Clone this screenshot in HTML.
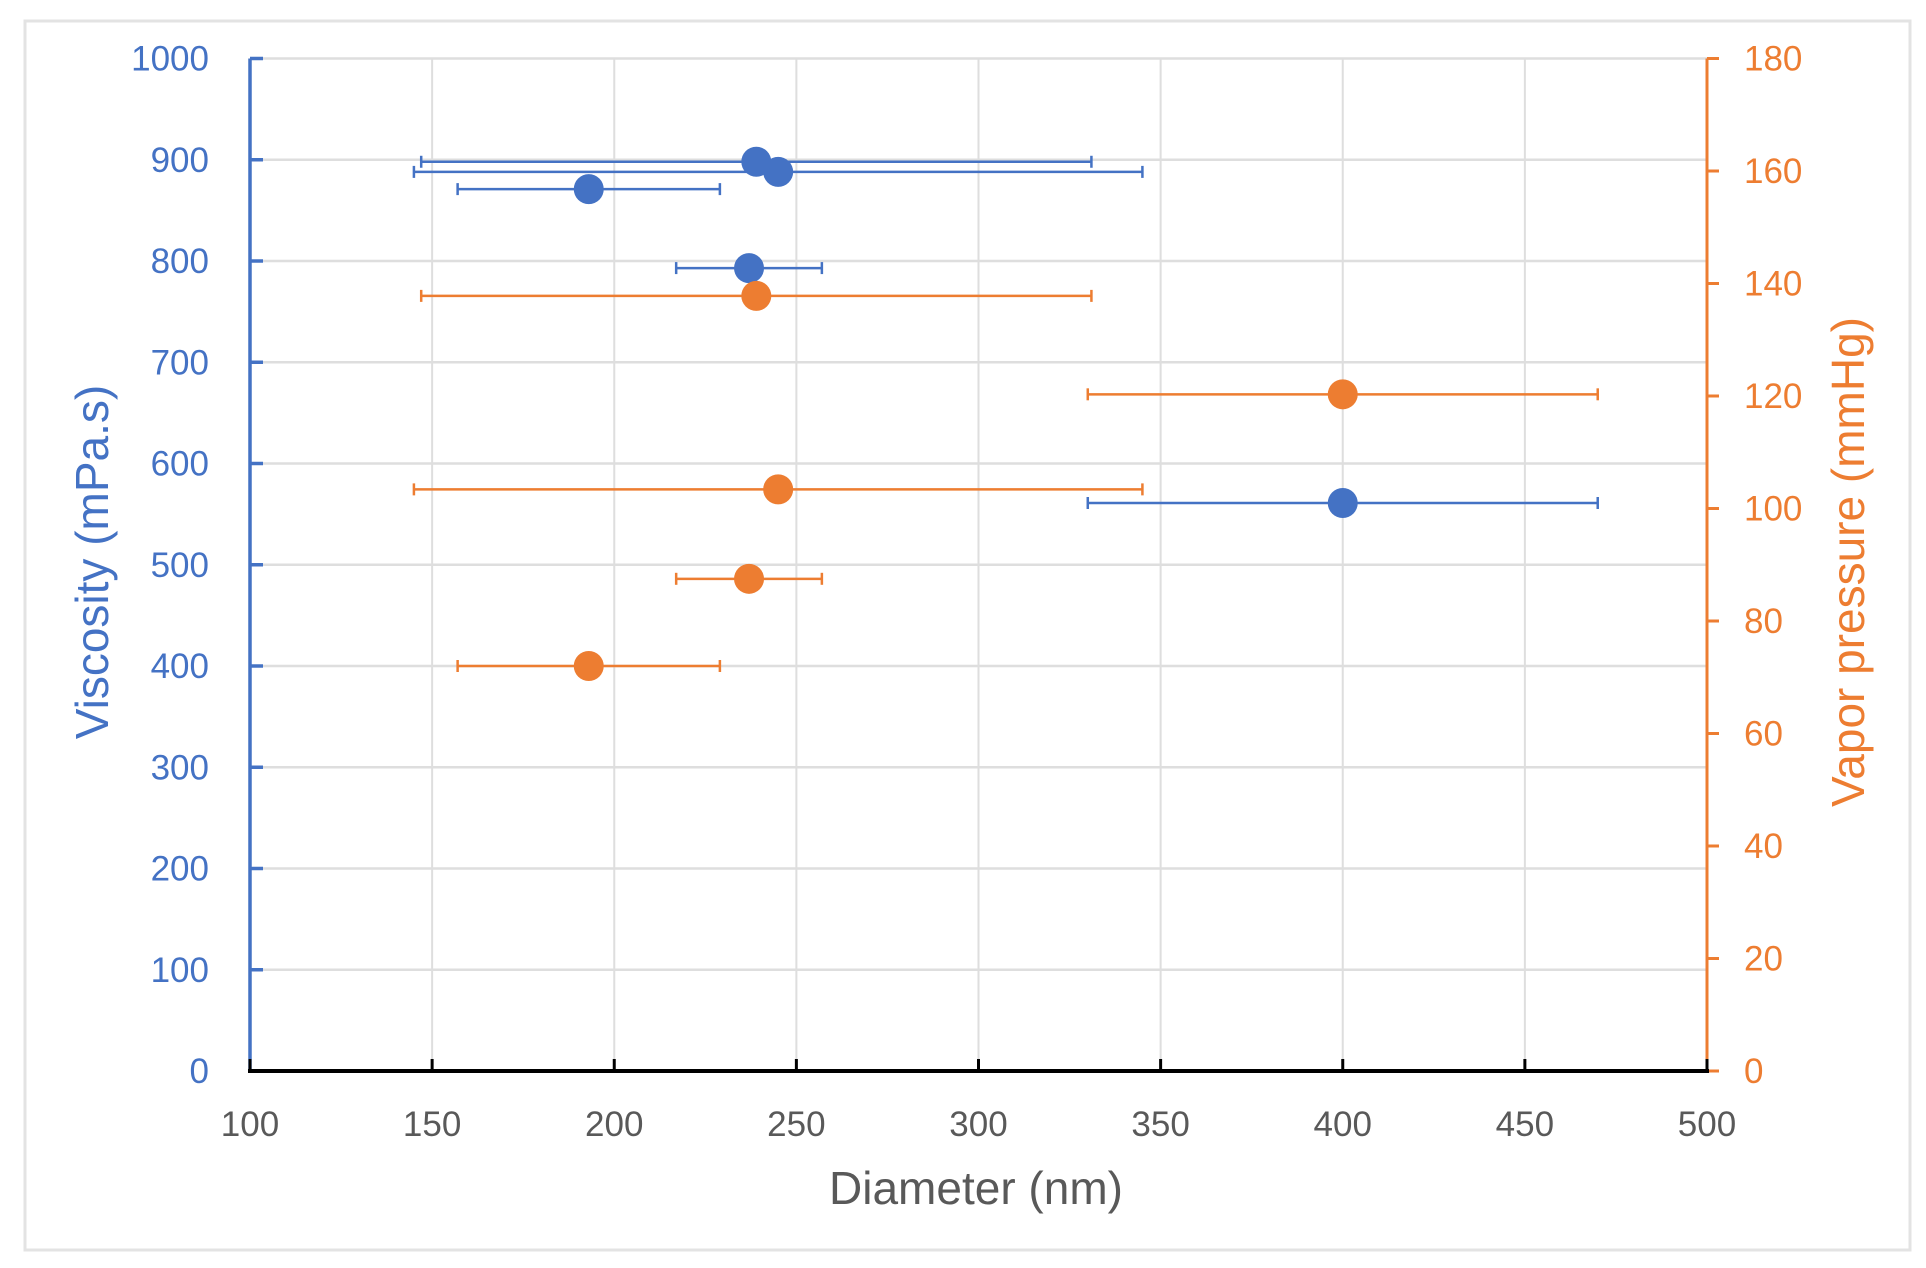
<!DOCTYPE html>
<html><head><style>
html,body{margin:0;padding:0;background:#fff;}
svg{display:block;font-family:"Liberation Sans",sans-serif;}
</style></head><body>
<svg id="s" width="1926" height="1268" xmlns="http://www.w3.org/2000/svg"></svg>
<script>
const s=document.getElementById('s');
const X0=250,X1=1707,Y0=1071,Y1=58.5;
const xm=v=>X0+(v-100)/400*(X1-X0);
const yl=v=>Y0-v/1000*(Y0-Y1);
const yr=v=>Y0-v/180*(Y0-Y1);
let h='';
h+=`<rect x="25" y="21" width="1885" height="1229" fill="#fff" stroke="#e3e3e3" stroke-width="3"/>`;
for(let v=150;v<=450;v+=50){h+=`<line x1="${xm(v)}" y1="${Y1}" x2="${xm(v)}" y2="${Y0}" stroke="#dedede" stroke-width="2"/>`;}
for(let v=100;v<=1000;v+=100){h+=`<line x1="${X0}" y1="${yl(v)}" x2="${X1}" y2="${yl(v)}" stroke="#dedede" stroke-width="2.5"/>`;}
h+=`<line x1="${X0}" y1="${Y1}" x2="${X0}" y2="${Y0}" stroke="#4472C4" stroke-width="3.5"/>`;
for(let v=0;v<=1000;v+=100){h+=`<line x1="${X0}" y1="${yl(v)}" x2="${X0+13}" y2="${yl(v)}" stroke="#4472C4" stroke-width="3.5"/>`;
h+=`<text x="209" y="${yl(v)+12}" text-anchor="end" font-size="35" fill="#4472C4">${v}</text>`;}
h+=`<line x1="${X1}" y1="${Y1}" x2="${X1}" y2="${Y0}" stroke="#ED7D31" stroke-width="3"/>`;
for(let v=0;v<=180;v+=20){h+=`<line x1="${X1}" y1="${yr(v)}" x2="${X1+12}" y2="${yr(v)}" stroke="#ED7D31" stroke-width="3"/>`;
h+=`<text x="1744" y="${yr(v)+12}" font-size="35" fill="#ED7D31">${v}</text>`;}
h+=`<line x1="${X0-2}" y1="${Y0}" x2="${X1+2}" y2="${Y0}" stroke="#000" stroke-width="4"/>`;
for(let v=100;v<=500;v+=50){h+=`<line x1="${xm(v)}" y1="${Y0}" x2="${xm(v)}" y2="${Y0-12}" stroke="#000" stroke-width="3"/>`;
h+=`<text x="${xm(v)}" y="1136" text-anchor="middle" font-size="35" fill="#595959">${v}</text>`;}
h+=`<text x="976" y="1204" text-anchor="middle" font-size="46" fill="#595959">Diameter (nm)</text>`;
h+=`<text transform="translate(108,562) rotate(-90)" text-anchor="middle" font-size="46" fill="#4472C4">Viscosity (mPa.s)</text>`;
h+=`<text transform="translate(1864,562) rotate(-90)" text-anchor="middle" font-size="46" fill="#ED7D31">Vapor pressure (mmHg)</text>`;
function pt(x,y,lo,hi,c){
 let a=xm(lo),b=xm(hi);
 h+=`<line x1="${a}" y1="${y}" x2="${b}" y2="${y}" stroke="${c}" stroke-width="2.5"/>`;
 h+=`<line x1="${a}" y1="${y-6}" x2="${a}" y2="${y+6}" stroke="${c}" stroke-width="2.5"/>`;
 h+=`<line x1="${b}" y1="${y-6}" x2="${b}" y2="${y+6}" stroke="${c}" stroke-width="2.5"/>`;
 h+=`<circle cx="${xm(x)}" cy="${y}" r="15" fill="${c}"/>`;
}
const B='#4472C4',O='#ED7D31';
pt(400,yl(561),330,470,B);
pt(237,yl(793),217,257,B);
pt(193,yl(871),157,229,B);
pt(245,yl(888),145,345,B);
pt(239,yl(898),147,331,B);
pt(239,yr(137.8),147,331,O);
pt(400,yr(120.3),330,470,O);
pt(245,yr(103.4),145,345,O);
pt(237,yr(87.5),217,257,O);
pt(193,yr(72),157,229,O);
s.innerHTML=h;
</script>
</body></html>
